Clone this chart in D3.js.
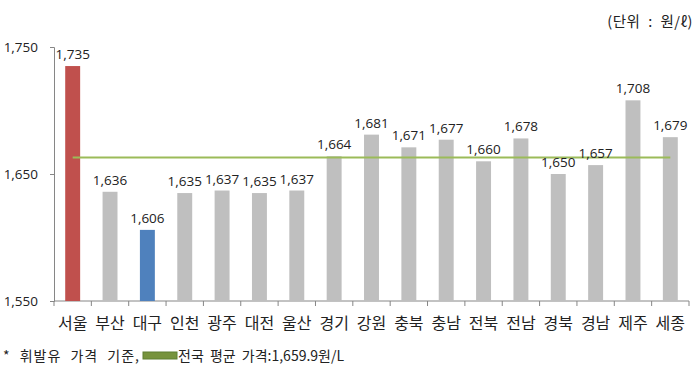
<!DOCTYPE html>
<html><head><meta charset="utf-8">
<script src="https://cdn.jsdelivr.net/npm/d3@7"></script>
<style>body{margin:0;background:#fff}svg{display:block}</style>
</head><body>
<svg id="c" width="699" height="379"></svg>
<script>
const categories = ["서울","부산","대구","인천","광주","대전","울산","경기","강원","충북","충남","전북","전남","경북","경남","제주","세종"];
const prices = [1735,1636,1606,1635,1637,1635,1637,1664,1681,1671,1677,1660,1678,1650,1657,1708,1679];
const barColors = ["#c0504d","#bfbfbf","#4f81bd","#bfbfbf","#bfbfbf","#bfbfbf","#bfbfbf","#bfbfbf","#bfbfbf","#bfbfbf","#bfbfbf","#bfbfbf","#bfbfbf","#bfbfbf","#bfbfbf","#bfbfbf","#bfbfbf"];
const yTicks = [1550,1650,1750];
const avgLineValue = 1663;
const unitText = "(단위 : 원/ℓ)";
const noteText = "* 휘발유 가격 기준,";
const legendText = "전국 평균 가격:1,659.9원/L";

const svg = d3.select("#c");
const x = d3.scaleBand().domain(categories).range([54,689]).paddingInner(0.6).paddingOuter(0.3);
const y = d3.scaleLinear().domain([1550,1750]).range([301,47]);
const fmt = d3.format(",");
const numFont = "'Open Sans', sans-serif";
const kFont = "'Noto Sans CJK KR', sans-serif";

// axes
const yAxis = svg.append("g").attr("transform","translate(54,0)")
  .call(d3.axisLeft(y).tickValues(yTicks).tickFormat(fmt).tickSize(4).tickPadding(12));
yAxis.selectAll("path,line").attr("stroke","#868686");
yAxis.selectAll("text").attr("font-family",numFont).attr("font-size",13.5).attr("fill","#222");

const xb = d3.scaleBand().domain(categories).range([54,689]);
const xAxis = svg.append("g").attr("transform","translate(0,301)");
xAxis.append("line").attr("x1",54).attr("x2",689).attr("stroke","#868686");
xAxis.selectAll("line.t").data(categories.concat(["_end"])).join("line").attr("class","t")
  .attr("x1",(d,i)=>54+i*xb.step()).attr("x2",(d,i)=>54+i*xb.step()).attr("y1",0).attr("y2",5).attr("stroke","#868686");
xAxis.selectAll("text").data(categories).join("text")
  .attr("x",d=>xb(d)+xb.bandwidth()/2).attr("y",28).attr("text-anchor","middle")
  .attr("font-family",kFont).attr("font-size",16).attr("fill","#222").text(d=>d);

// bars
svg.selectAll("rect.bar").data(prices).join("rect").attr("class","bar")
  .attr("x",(d,i)=>x(categories[i])).attr("width",x.bandwidth())
  .attr("y",d=>y(d)).attr("height",d=>y(1550)-y(d)).attr("fill",(d,i)=>barColors[i]);

// avg line
svg.append("line").attr("x1",xb(categories[0])+xb.bandwidth()/2).attr("x2",xb(categories[categories.length-1])+xb.bandwidth()/2)
  .attr("y1",y(avgLineValue)).attr("y2",y(avgLineValue)).attr("stroke","#9bbb59").attr("stroke-width",2);

// value labels
svg.selectAll("text.v").data(prices).join("text").attr("class","v")
  .attr("x",(d,i)=>x(categories[i])+x.bandwidth()/2).attr("y",d=>y(d)-7).attr("text-anchor","middle")
  .attr("font-family",numFont).attr("font-size",13.5).attr("fill","#222").text(d=>fmt(d));

// unit
svg.append("text").attr("x",693).attr("y",27).attr("text-anchor","end")
  .attr("font-family",kFont).attr("font-size",14.5).attr("word-spacing",4).attr("letter-spacing",0.5)
  .attr("fill","#222").text(unitText);

// footnote
svg.append("text").attr("x",3).attr("y",361).attr("font-family",kFont).attr("font-size",14)
  .attr("letter-spacing",1).attr("word-spacing",5).attr("fill","#222").text(noteText);
svg.append("rect").attr("x",143).attr("y",352).attr("width",34).attr("height",7).attr("fill","#77933c").attr("stroke","#5f7f30").attr("stroke-width",1);
svg.append("text").attr("x",178).attr("y",361).attr("font-family",kFont).attr("font-size",14)
  .attr("word-spacing",3).attr("fill","#222").text(legendText);
</script>
</body></html>
